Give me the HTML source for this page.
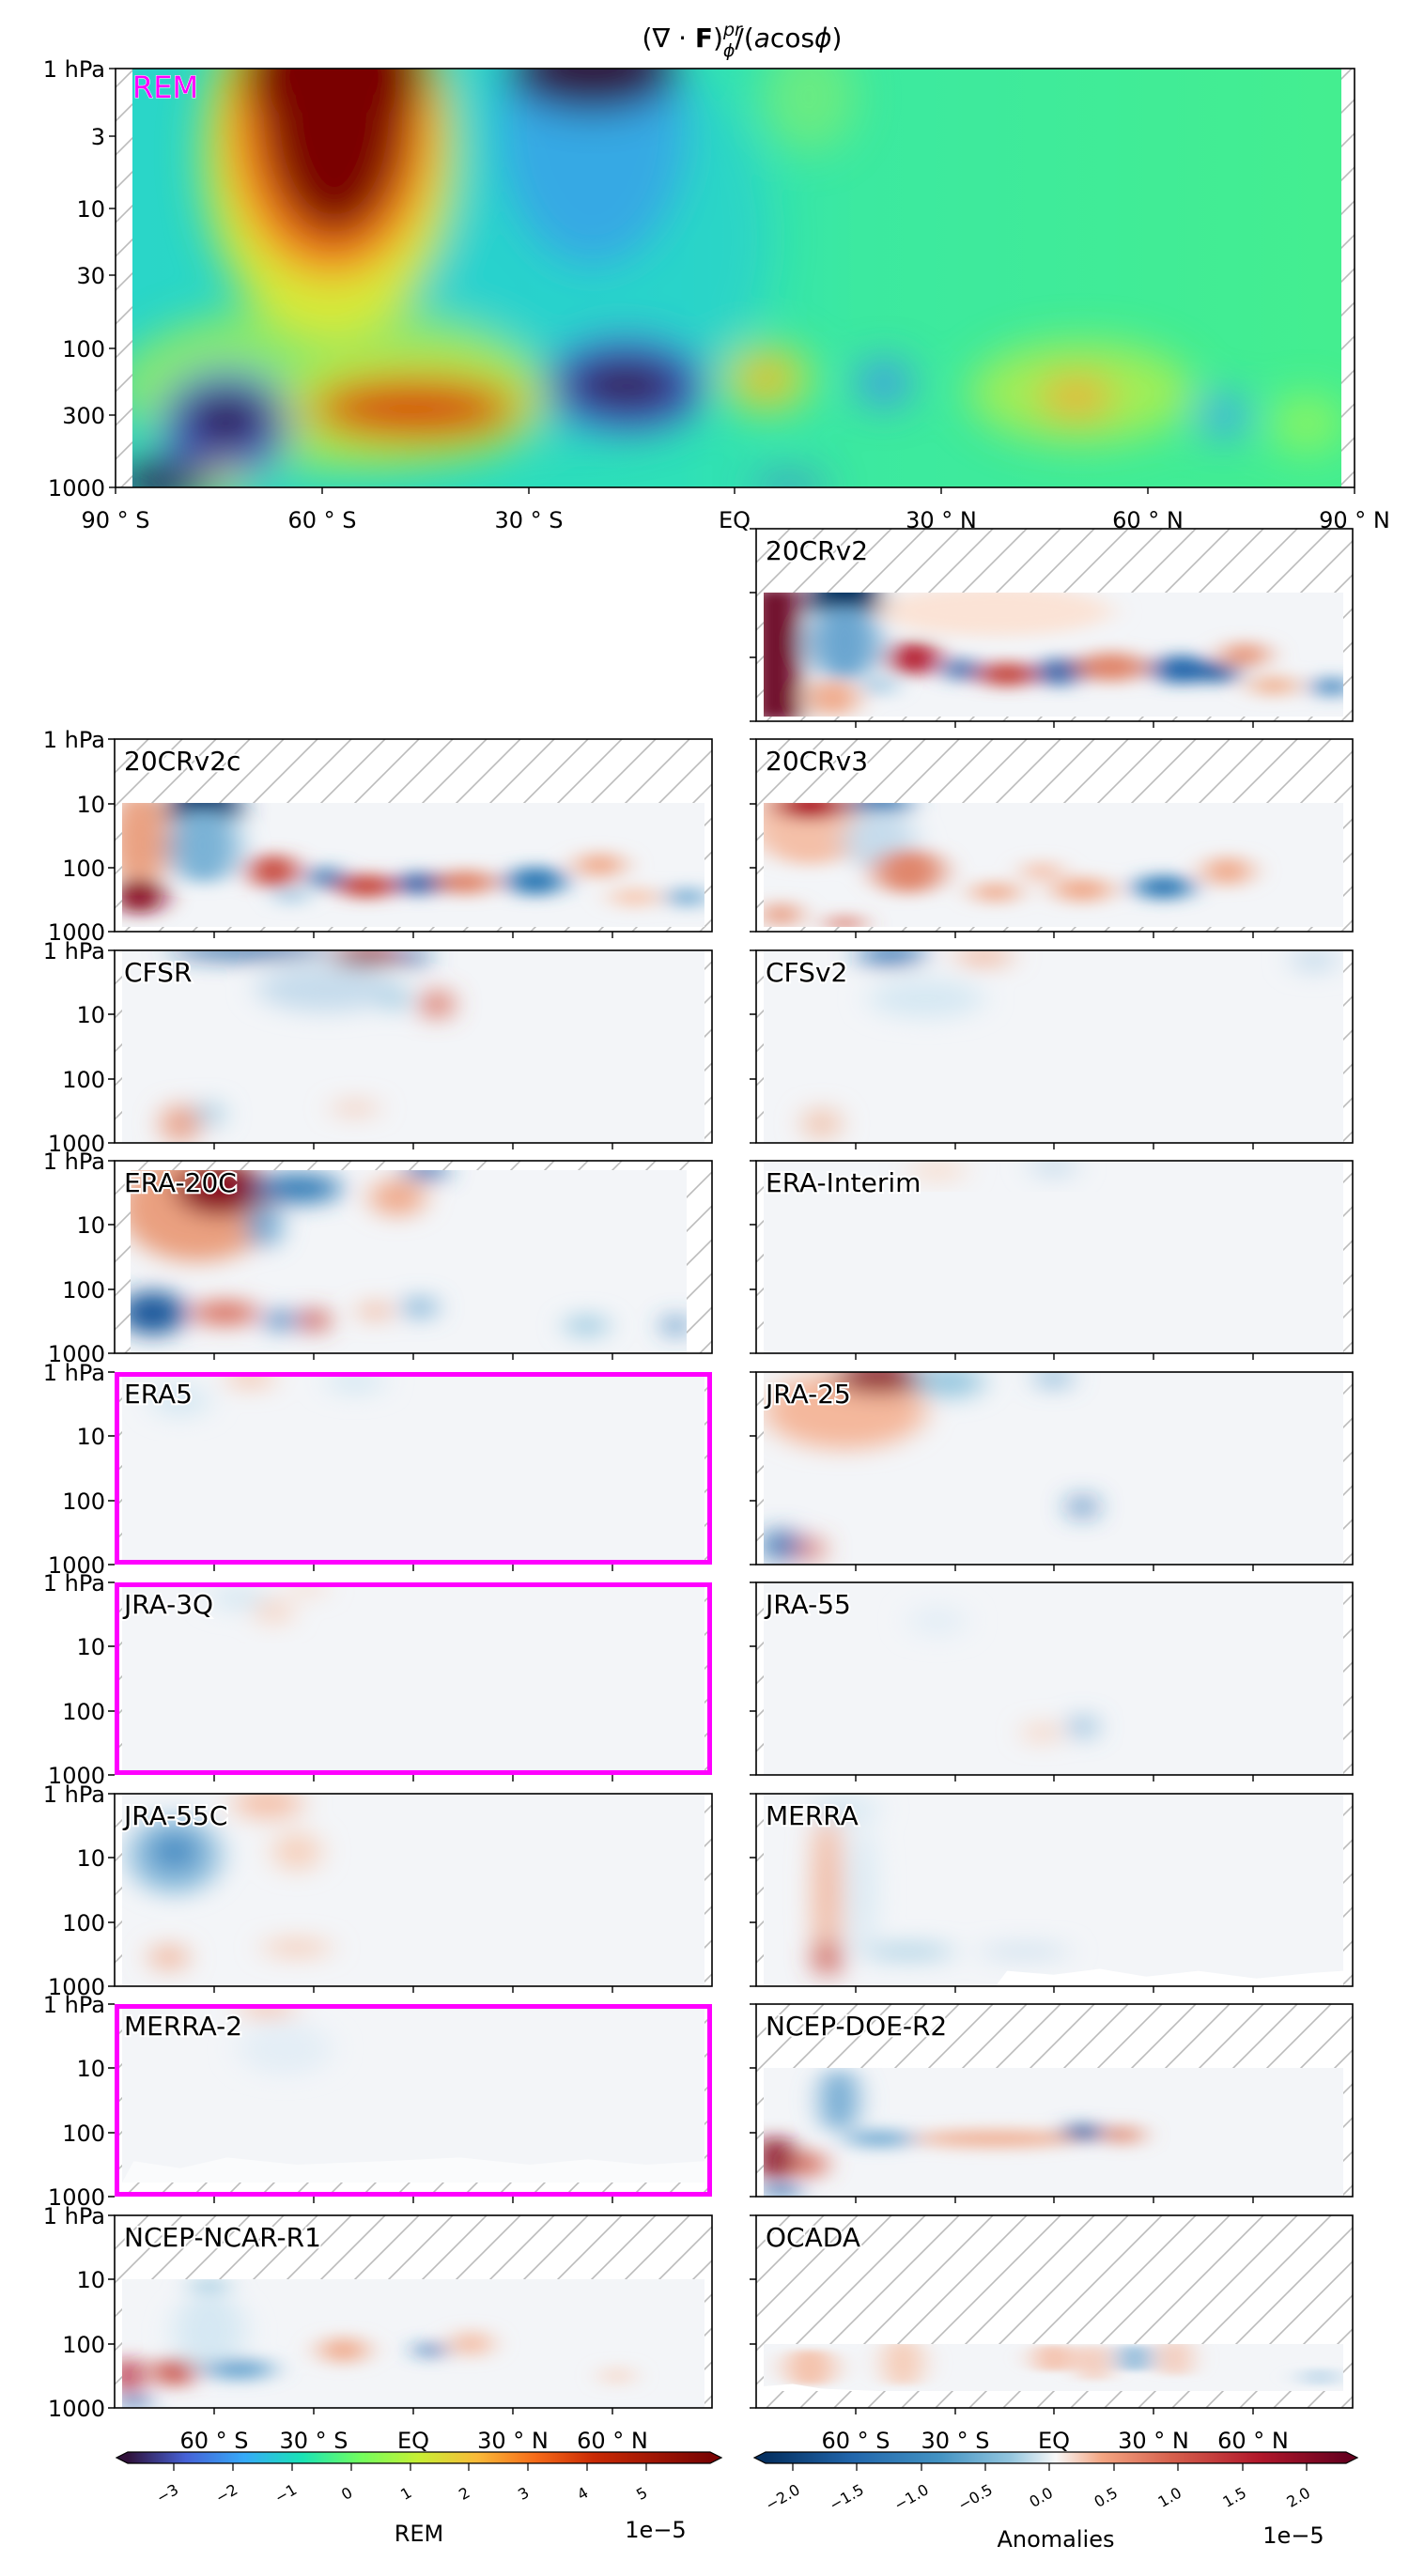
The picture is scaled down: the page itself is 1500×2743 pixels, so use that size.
<!DOCTYPE html>
<html><head><meta charset="utf-8"><style>
html,body{margin:0;padding:0;background:#fff;}
svg text{font-family:"DejaVu Sans","Liberation Sans",sans-serif;}
</style></head><body>
<svg width="1500" height="2738" viewBox="0 0 1500 2738" xmlns="http://www.w3.org/2000/svg">
<defs>
<pattern id="h" patternUnits="userSpaceOnUse" width="36" height="36">
<path d="M-9,9 L9,-9 M0,36 L36,0 M27,45 L45,27" stroke="#bbb" stroke-width="1.6"/>
</pattern>
<filter id="b" x="-50%" y="-50%" width="200%" height="200%"><feGaussianBlur stdDeviation="2.4 6"/></filter>
<filter id="bb" x="-50%" y="-50%" width="200%" height="200%"><feGaussianBlur stdDeviation="22"/></filter>
<linearGradient id="turbo" x1="0" x2="1">
<stop offset="0" stop-color="#30123b"/><stop offset=".1" stop-color="#4662d7"/><stop offset=".2" stop-color="#36aaf9"/><stop offset=".3" stop-color="#1ae4b6"/><stop offset=".4" stop-color="#72fe5e"/><stop offset=".5" stop-color="#c8ef34"/><stop offset=".6" stop-color="#faba39"/><stop offset=".7" stop-color="#f66b19"/><stop offset=".8" stop-color="#ca2a04"/><stop offset="1" stop-color="#7a0403"/>
</linearGradient>
<linearGradient id="rdbu" x1="0" x2="1">
<stop offset="0" stop-color="#053061"/><stop offset=".15" stop-color="#2166ac"/><stop offset=".3" stop-color="#4393c3"/><stop offset=".42" stop-color="#92c5de"/><stop offset=".5" stop-color="#f7f7f7"/><stop offset=".58" stop-color="#f4a582"/><stop offset=".7" stop-color="#d6604d"/><stop offset=".85" stop-color="#b2182b"/><stop offset="1" stop-color="#67001f"/>
</linearGradient>
<linearGradient id="remb" x1="0" x2="1">
<stop offset="0" stop-color="#2ad6c8"/><stop offset=".45" stop-color="#2ee0b8"/><stop offset=".6" stop-color="#3ce9a0"/><stop offset="1" stop-color="#44ee90"/>
</linearGradient>
</defs>

<!-- Title -->
<text x="790" y="50" font-size="28" text-anchor="middle">(∇ · <tspan font-weight="bold">F</tspan>)<tspan font-size="19" dy="-12" font-style="italic">pr</tspan><tspan font-size="19" dx="-20" dy="22" font-style="italic">ϕ</tspan><tspan dy="-10">/(</tspan><tspan font-style="italic">a</tspan>cos<tspan font-style="italic">ϕ</tspan>)</text>

<!-- REM panel -->
<rect x="123" y="73" width="1319" height="446" fill="#fff"/>
<rect x="123" y="73" width="1319" height="446" fill="url(#h)"/>
<svg x="141" y="73" width="1287" height="446" viewBox="0 0 1287 446">
<rect width="1287" height="446" fill="url(#remb)"/>
<g filter="url(#bb)">
<ellipse cx="460" cy="180" rx="220" ry="220" fill="#26c6e0" opacity=".45"/>
<ellipse cx="720" cy="30" rx="50" ry="60" fill="#9af060" opacity=".5"/>
<ellipse cx="210" cy="340" rx="230" ry="90" fill="#a8ee50" opacity=".75"/>
<ellipse cx="210" cy="90" rx="135" ry="200" fill="#d8e838"/>
<ellipse cx="212" cy="60" rx="110" ry="160" fill="#f87a1e"/>
<ellipse cx="215" cy="40" rx="80" ry="140" fill="#7a0403"/>
<ellipse cx="215" cy="0" rx="100" ry="80" fill="#7a0403"/>
<ellipse cx="490" cy="60" rx="100" ry="150" fill="#3f8ef5" opacity=".6"/>
<ellipse cx="490" cy="0" rx="90" ry="45" fill="#30123b"/>
<ellipse cx="100" cy="378" rx="70" ry="55" fill="#4662d7"/>
<ellipse cx="100" cy="375" rx="48" ry="30" fill="#30123b"/>
<ellipse cx="300" cy="360" rx="140" ry="60" fill="#d0e835" opacity=".8"/>
<ellipse cx="300" cy="362" rx="110" ry="32" fill="#d63a06"/>
<ellipse cx="525" cy="337" rx="85" ry="50" fill="#4662d7"/>
<ellipse cx="525" cy="337" rx="65" ry="28" fill="#30123b"/>
<ellipse cx="675" cy="330" rx="50" ry="38" fill="#d0ee3a" opacity=".8"/>
<ellipse cx="675" cy="330" rx="25" ry="15" fill="#fb8022"/>
<ellipse cx="800" cy="335" rx="28" ry="22" fill="#3f8ef0"/>
<ellipse cx="1010" cy="345" rx="120" ry="55" fill="#c8f03a" opacity=".7"/>
<ellipse cx="1005" cy="350" rx="40" ry="20" fill="#fca030"/>
<ellipse cx="1162" cy="370" rx="25" ry="22" fill="#3fa0f5"/>
<ellipse cx="1250" cy="378" rx="40" ry="30" fill="#a8f850" opacity=".7"/>
<rect x="-10" y="420" width="90" height="40" fill="#30123b"/>
<ellipse cx="100" cy="440" rx="30" ry="12" fill="#dfe030"/>
<ellipse cx="700" cy="446" rx="40" ry="8" fill="#4662d7"/>
</g>
</svg>
<rect x="123" y="73" width="1319" height="446" fill="none" stroke="#000" stroke-width="1.6"/>
<text x="141" y="104" font-size="32" fill="#ff00ff" stroke="#fff" stroke-width="1" paint-order="stroke">REM</text>
<g stroke="#000" stroke-width="1.4">
<line x1="116" y1="73" x2="123" y2="73"/><line x1="116" y1="145" x2="123" y2="145"/><line x1="116" y1="222" x2="123" y2="222"/><line x1="116" y1="293" x2="123" y2="293"/><line x1="116" y1="371" x2="123" y2="371"/><line x1="116" y1="442" x2="123" y2="442"/><line x1="116" y1="519" x2="123" y2="519"/>
</g>
<g font-size="24" text-anchor="end">
<text x="112" y="82">1 hPa</text><text x="112" y="154">3</text><text x="112" y="231">10</text><text x="112" y="302">30</text><text x="112" y="380">100</text><text x="112" y="451">300</text><text x="112" y="528">1000</text>
</g>
<g stroke="#000" stroke-width="1.4">
<line x1="123" y1="519" x2="123" y2="526"/><line x1="343" y1="519" x2="343" y2="526"/><line x1="563" y1="519" x2="563" y2="526"/><line x1="782" y1="519" x2="782" y2="526"/><line x1="1002" y1="519" x2="1002" y2="526"/><line x1="1222" y1="519" x2="1222" y2="526"/><line x1="1442" y1="519" x2="1442" y2="526"/>
</g>
<g font-size="24" text-anchor="middle">
<text x="123" y="562">90 ° S</text><text x="343" y="562">60 ° S</text><text x="563" y="562">30 ° S</text><text x="782" y="562">EQ</text><text x="1002" y="562">30 ° N</text><text x="1222" y="562">60 ° N</text><text x="1442" y="562">90 ° N</text>
</g>

<!-- Row0 right: 20CRv2 -->
<g transform="translate(805,563)">
<rect width="635" height="205" fill="#fff"/><rect width="635" height="205" fill="url(#h)"/>
<svg x="8" y="68" width="617" height="132" viewBox="0 0 100 100" preserveAspectRatio="none">
<rect width="100" height="100" fill="#f3f5f8"/>
<g filter="url(#b)">
<ellipse cx="40" cy="15" rx="20" ry="20" fill="#fbe3d6"/>
<rect x="-2" y="-5" width="8" height="110" fill="#67001f"/>
<ellipse cx="14" cy="5" rx="6" ry="25" fill="#053061"/>
<ellipse cx="14" cy="40" rx="6" ry="30" fill="#6aa6d0"/>
<ellipse cx="26" cy="53" rx="4" ry="14" fill="#b2182b"/>
<ellipse cx="34" cy="62" rx="2.5" ry="10" fill="#2166ac"/>
<ellipse cx="42" cy="66" rx="5" ry="10" fill="#c4453c"/>
<ellipse cx="51" cy="64" rx="3.5" ry="12" fill="#2166ac"/>
<ellipse cx="60" cy="60" rx="6" ry="12" fill="#e0866c"/>
<ellipse cx="72" cy="62" rx="5" ry="12" fill="#2166ac"/>
<ellipse cx="79" cy="65" rx="2.5" ry="9" fill="#1a5a9c"/>
<ellipse cx="83" cy="50" rx="4" ry="10" fill="#e8987c"/>
<ellipse cx="88" cy="75" rx="4" ry="8" fill="#f0b090"/>
<ellipse cx="98" cy="76" rx="3" ry="8" fill="#3a80bc"/>
<ellipse cx="12" cy="85" rx="4" ry="15" fill="#f0a888"/>
<ellipse cx="20" cy="75" rx="2" ry="8" fill="#8bbcdc"/>
</g></svg>
<rect width="635" height="205" fill="none" stroke="#000" stroke-width="1.6"/>
<text x="10" y="33" font-size="28" stroke="#fff" stroke-width="4" paint-order="stroke">20CRv2</text>
</g>

<!-- Row1 left: 20CRv2c -->
<g transform="translate(122,787)">
<rect width="636" height="205" fill="#fff"/><rect width="636" height="205" fill="url(#h)"/>
<svg x="8" y="68" width="620" height="132" viewBox="0 0 100 100" preserveAspectRatio="none">
<rect width="100" height="100" fill="#f3f5f8"/>
<g filter="url(#b)">
<ellipse cx="3" cy="30" rx="5" ry="40" fill="#eaa080"/>
<ellipse cx="3" cy="75" rx="4" ry="15" fill="#8a0a24"/>
<ellipse cx="14" cy="5" rx="6" ry="25" fill="#0a3a70"/>
<ellipse cx="14" cy="35" rx="6" ry="30" fill="#7ab2d6"/>
<ellipse cx="26" cy="55" rx="4" ry="14" fill="#c84a3e"/>
<ellipse cx="35" cy="60" rx="2.5" ry="10" fill="#2f79b5"/>
<ellipse cx="42" cy="67" rx="5" ry="10" fill="#c84a3e"/>
<ellipse cx="51" cy="65" rx="3.5" ry="10" fill="#2166ac"/>
<ellipse cx="59" cy="64" rx="5" ry="10" fill="#e0866c"/>
<ellipse cx="71" cy="63" rx="5" ry="12" fill="#2f79b5"/>
<ellipse cx="82" cy="50" rx="4" ry="10" fill="#f0aa8c"/>
<ellipse cx="88" cy="76" rx="4" ry="8" fill="#f7c8b0"/>
<ellipse cx="97" cy="76" rx="3" ry="8" fill="#6aa6d0"/>
<ellipse cx="29" cy="75" rx="2" ry="7" fill="#8bbcdc"/>
</g></svg>
<rect width="636" height="205" fill="none" stroke="#000" stroke-width="1.6"/>
<text x="10" y="33" font-size="28" stroke="#fff" stroke-width="4" paint-order="stroke">20CRv2c</text>
</g>

<!-- Row1 right: 20CRv3 -->
<g transform="translate(805,787)">
<rect width="635" height="205" fill="#fff"/><rect width="635" height="205" fill="url(#h)"/>
<svg x="8" y="68" width="617" height="132" viewBox="0 0 100 100" preserveAspectRatio="none">
<rect width="100" height="100" fill="#f3f5f8"/>
<g filter="url(#b)">
<ellipse cx="8" cy="15" rx="10" ry="35" fill="#f4c0a8"/>
<ellipse cx="8" cy="2" rx="6" ry="12" fill="#b2182b"/>
<ellipse cx="20" cy="2" rx="5" ry="12" fill="#2f79b5"/>
<ellipse cx="20" cy="30" rx="6" ry="25" fill="#c6dcec"/>
<ellipse cx="25" cy="55" rx="6" ry="18" fill="#e0866c"/>
<ellipse cx="40" cy="72" rx="4" ry="8" fill="#f0aa8c"/>
<ellipse cx="48" cy="55" rx="3" ry="8" fill="#f4bca4"/>
<ellipse cx="55" cy="70" rx="5" ry="10" fill="#f0aa8c"/>
<ellipse cx="69" cy="68" rx="5" ry="10" fill="#2f79b5"/>
<ellipse cx="80" cy="55" rx="4" ry="12" fill="#f0aa8c"/>
<ellipse cx="3" cy="90" rx="3" ry="10" fill="#e8987c"/>
<ellipse cx="14" cy="97" rx="3" ry="5" fill="#d6604d"/>
</g></svg>
<rect width="635" height="205" fill="none" stroke="#000" stroke-width="1.6"/>
<text x="10" y="33" font-size="28" stroke="#fff" stroke-width="4" paint-order="stroke">20CRv3</text>
</g>

<!-- Row2 left: CFSR -->
<g transform="translate(122,1012)">
<rect width="636" height="205" fill="#fff"/><rect width="636" height="205" fill="url(#h)"/>
<svg x="8" y="0" width="620" height="205" viewBox="0 0 100 100" preserveAspectRatio="none">
<rect width="100" height="100" fill="#f3f5f8"/>
<g filter="url(#b)">
<ellipse cx="22" cy="0" rx="14" ry="4" fill="#1a5a9c"/>
<ellipse cx="35" cy="20" rx="12" ry="12" fill="#c6dcec"/>
<ellipse cx="42" cy="3" rx="6" ry="5" fill="#8a0a24"/>
<ellipse cx="50" cy="3" rx="2.5" ry="4" fill="#1a5a9c"/>
<ellipse cx="54" cy="28" rx="2.5" ry="7" fill="#d6604d"/>
<ellipse cx="47" cy="25" rx="2" ry="6" fill="#92c5de"/>
<ellipse cx="10" cy="90" rx="3" ry="10" fill="#e8987c"/>
<ellipse cx="15" cy="85" rx="2" ry="6" fill="#92c5de"/>
<ellipse cx="40" cy="82" rx="4" ry="3" fill="#f4c0a8"/>
</g></svg>
<rect width="636" height="205" fill="none" stroke="#000" stroke-width="1.6"/>
<text x="10" y="33" font-size="28" stroke="#fff" stroke-width="4" paint-order="stroke">CFSR</text>
</g>

<!-- Row2 right: CFSv2 -->
<g transform="translate(805,1012)">
<rect width="635" height="205" fill="#fff"/><rect width="635" height="205" fill="url(#h)"/>
<svg x="8" y="0" width="617" height="205" viewBox="0 0 100 100" preserveAspectRatio="none">
<rect width="100" height="100" fill="#f3f5f8"/>
<g filter="url(#b)">
<ellipse cx="22" cy="2" rx="6" ry="5" fill="#2166ac"/>
<ellipse cx="38" cy="3" rx="5" ry="4" fill="#f0aa8c"/>
<ellipse cx="28" cy="25" rx="10" ry="10" fill="#d6e8f3"/>
<ellipse cx="95" cy="5" rx="4" ry="6" fill="#c6dcec"/>
<ellipse cx="10" cy="90" rx="3" ry="8" fill="#f0c0a8"/>
</g></svg>
<rect width="635" height="205" fill="none" stroke="#000" stroke-width="1.6"/>
<text x="10" y="33" font-size="28" stroke="#fff" stroke-width="4" paint-order="stroke">CFSv2</text>
</g>

<!-- Row3 left: ERA-20C -->
<g transform="translate(122,1236)">
<rect width="636" height="205" fill="#fff"/><rect width="636" height="205" fill="url(#h)"/>
<svg x="17" y="10" width="592" height="195" viewBox="0 0 100 100" preserveAspectRatio="none">
<rect width="100" height="100" fill="#f3f5f8"/>
<g filter="url(#b)">
<ellipse cx="12" cy="20" rx="14" ry="30" fill="#eaa080"/>
<ellipse cx="16" cy="10" rx="8" ry="15" fill="#8a0a24"/>
<ellipse cx="30" cy="10" rx="8" ry="8" fill="#2f79b5"/>
<ellipse cx="24" cy="30" rx="3" ry="12" fill="#6aa6d0"/>
<ellipse cx="48" cy="15" rx="5" ry="10" fill="#f0aa8c"/>
<ellipse cx="53" cy="0" rx="4" ry="5" fill="#2166ac"/>
<ellipse cx="4" cy="78" rx="6" ry="12" fill="#1a5a9c"/>
<ellipse cx="17" cy="78" rx="6" ry="6" fill="#d6604d"/>
<ellipse cx="27" cy="82" rx="3" ry="5" fill="#3a80bc"/>
<ellipse cx="33" cy="82" rx="2.5" ry="6" fill="#c84a3e"/>
<ellipse cx="52" cy="75" rx="3" ry="5" fill="#6aa6d0"/>
<ellipse cx="44" cy="77" rx="3" ry="4" fill="#f0aa8c"/>
<ellipse cx="82" cy="85" rx="4" ry="5" fill="#92c5de"/>
<ellipse cx="98" cy="85" rx="2" ry="5" fill="#3a80bc"/>
</g></svg>
<rect width="636" height="205" fill="none" stroke="#000" stroke-width="1.6"/>
<text x="10" y="33" font-size="28" stroke="#fff" stroke-width="4" paint-order="stroke">ERA-20C</text>
</g>

<!-- Row3 right: ERA-Interim -->
<g transform="translate(805,1236)">
<rect width="635" height="205" fill="#fff"/><rect width="635" height="205" fill="url(#h)"/>
<svg x="8" y="0" width="617" height="205" viewBox="0 0 100 100" preserveAspectRatio="none">
<rect width="100" height="100" fill="#f3f5f8"/>
<g filter="url(#b)">
<ellipse cx="50" cy="3" rx="4" ry="5" fill="#c6dcec"/>
<ellipse cx="30" cy="5" rx="5" ry="5" fill="#f8dccc"/>
</g></svg>
<rect width="635" height="205" fill="none" stroke="#000" stroke-width="1.6"/>
<text x="10" y="33" font-size="28" stroke="#fff" stroke-width="4" paint-order="stroke">ERA-Interim</text>
</g>

<!-- Row4 left: ERA5 -->
<g transform="translate(122,1461)">
<rect width="636" height="205" fill="#fff"/><rect width="636" height="205" fill="url(#h)"/>
<svg x="8" y="0" width="620" height="205" viewBox="0 0 100 100" preserveAspectRatio="none">
<rect width="100" height="100" fill="#f3f5f8"/>
<g filter="url(#b)">
<ellipse cx="22" cy="3" rx="4" ry="5" fill="#f6c4ac"/>
<ellipse cx="40" cy="5" rx="5" ry="6" fill="#d6e8f3"/>
<ellipse cx="10" cy="15" rx="5" ry="8" fill="#d6e8f3"/>
</g></svg>
<rect x="2.5" y="2.5" width="631" height="200" fill="none" stroke="#ff00ff" stroke-width="5"/>
<text x="10" y="33" font-size="28" stroke="#fff" stroke-width="4" paint-order="stroke">ERA5</text>
</g>

<!-- Row4 right: JRA-25 -->
<g transform="translate(805,1461)">
<rect width="635" height="205" fill="#fff"/><rect width="635" height="205" fill="url(#h)"/>
<svg x="8" y="0" width="617" height="205" viewBox="0 0 100 100" preserveAspectRatio="none">
<rect width="100" height="100" fill="#f3f5f8"/>
<g filter="url(#b)">
<ellipse cx="14" cy="20" rx="14" ry="20" fill="#f4b89c"/>
<ellipse cx="20" cy="3" rx="8" ry="8" fill="#8a0a24"/>
<ellipse cx="32" cy="5" rx="6" ry="8" fill="#92c5de"/>
<ellipse cx="50" cy="3" rx="3" ry="4" fill="#6aa6d0"/>
<ellipse cx="55" cy="70" rx="2" ry="5" fill="#2166ac"/>
<ellipse cx="3" cy="90" rx="3" ry="8" fill="#2166ac"/>
<ellipse cx="8" cy="92" rx="2" ry="6" fill="#d6604d"/>
</g></svg>
<rect width="635" height="205" fill="none" stroke="#000" stroke-width="1.6"/>
<text x="10" y="33" font-size="28" stroke="#fff" stroke-width="4" paint-order="stroke">JRA-25</text>
</g>

<!-- Row5 left: JRA-3Q -->
<g transform="translate(122,1685)">
<rect width="636" height="205" fill="#fff"/><rect width="636" height="205" fill="url(#h)"/>
<svg x="8" y="0" width="620" height="205" viewBox="0 0 100 100" preserveAspectRatio="none">
<rect width="100" height="100" fill="#f3f5f8"/>
<g filter="url(#b)">
<ellipse cx="26" cy="15" rx="3" ry="6" fill="#f8d0bc"/>
<ellipse cx="20" cy="8" rx="5" ry="6" fill="#d6e8f3"/>
<ellipse cx="32" cy="3" rx="3" ry="3" fill="#f8d0bc"/>
</g></svg>
<rect x="2.5" y="2.5" width="631" height="200" fill="none" stroke="#ff00ff" stroke-width="5"/>
<text x="10" y="33" font-size="28" stroke="#fff" stroke-width="4" paint-order="stroke">JRA-3Q</text>
</g>

<!-- Row5 right: JRA-55 -->
<g transform="translate(805,1685)">
<rect width="635" height="205" fill="#fff"/><rect width="635" height="205" fill="url(#h)"/>
<svg x="8" y="0" width="617" height="205" viewBox="0 0 100 100" preserveAspectRatio="none">
<rect width="100" height="100" fill="#f3f5f8"/>
<g filter="url(#b)">
<ellipse cx="55" cy="75" rx="2" ry="5" fill="#6aa6d0"/>
<ellipse cx="48" cy="78" rx="3" ry="4" fill="#f6c8b0"/>
<ellipse cx="30" cy="20" rx="5" ry="8" fill="#e4eef6"/>
</g></svg>
<rect width="635" height="205" fill="none" stroke="#000" stroke-width="1.6"/>
<text x="10" y="33" font-size="28" stroke="#fff" stroke-width="4" paint-order="stroke">JRA-55</text>
</g>

<!-- Row6 left: JRA-55C -->
<g transform="translate(122,1910)">
<rect width="636" height="205" fill="#fff"/><rect width="636" height="205" fill="url(#h)"/>
<svg x="8" y="0" width="620" height="205" viewBox="0 0 100 100" preserveAspectRatio="none">
<rect width="100" height="100" fill="#f3f5f8"/>
<g filter="url(#b)">
<ellipse cx="9" cy="32" rx="8" ry="20" fill="#8bbcdc"/>
<ellipse cx="9" cy="30" rx="4" ry="10" fill="#4a8ec4"/>
<ellipse cx="25" cy="5" rx="6" ry="8" fill="#f4c0a8"/>
<ellipse cx="30" cy="30" rx="4" ry="10" fill="#f6d0bc"/>
<ellipse cx="8" cy="85" rx="3" ry="6" fill="#f0aa8c"/>
<ellipse cx="30" cy="80" rx="6" ry="4" fill="#f6c8b0"/>
</g></svg>
<rect width="636" height="205" fill="none" stroke="#000" stroke-width="1.6"/>
<text x="10" y="33" font-size="28" stroke="#fff" stroke-width="4" paint-order="stroke">JRA-55C</text>
</g>

<!-- Row6 right: MERRA -->
<g transform="translate(805,1910)">
<rect width="635" height="205" fill="#fff"/><rect width="635" height="205" fill="url(#h)"/>
<svg x="8" y="0" width="617" height="205" viewBox="0 0 100 100" preserveAspectRatio="none">
<rect width="100" height="100" fill="#f3f5f8"/>
<g filter="url(#b)">
<ellipse cx="11" cy="50" rx="2" ry="45" fill="#f0aa8c"/>
<ellipse cx="11" cy="85" rx="2" ry="10" fill="#c84a3e"/>
<ellipse cx="17" cy="50" rx="2" ry="35" fill="#d6e8f3"/>
<ellipse cx="25" cy="82" rx="8" ry="3" fill="#92c5de"/>
<ellipse cx="45" cy="82" rx="8" ry="3" fill="#c6dcec"/>
<ellipse cx="14" cy="8" rx="6" ry="6" fill="#d6e8f3"/>
</g>
<path d="M40,100 L42,92 L50,94 L58,91 L66,95 L75,92 L85,96 L95,93 L100,92 L100,100 Z" fill="#fff"/>
</svg>
<rect width="635" height="205" fill="none" stroke="#000" stroke-width="1.6"/>
<text x="10" y="33" font-size="28" stroke="#fff" stroke-width="4" paint-order="stroke">MERRA</text>
</g>

<!-- Row7 left: MERRA-2 -->
<g transform="translate(122,2134)">
<rect width="636" height="205" fill="#fff"/><rect width="636" height="205" fill="url(#h)"/>
<svg x="8" y="0" width="620" height="190" viewBox="0 0 100 100" preserveAspectRatio="none">
<rect width="100" height="100" fill="#f3f5f8"/>
<g filter="url(#b)">
<ellipse cx="25" cy="3" rx="5" ry="4" fill="#f4bca4"/>
<ellipse cx="28" cy="25" rx="8" ry="15" fill="#e4eef6"/>
</g>
<path d="M0,100 L2,88 L10,92 L18,86 L30,90 L45,88 L58,86 L70,90 L80,87 L90,90 L100,88 L100,100 Z" fill="#fff" opacity=".6"/>
</svg>
<rect x="2.5" y="2.5" width="631" height="200" fill="none" stroke="#ff00ff" stroke-width="5"/>
<text x="10" y="33" font-size="28" stroke="#fff" stroke-width="4" paint-order="stroke">MERRA-2</text>
</g>

<!-- Row7 right: NCEP-DOE-R2 -->
<g transform="translate(805,2134)">
<rect width="635" height="205" fill="#fff"/><rect width="635" height="205" fill="url(#h)"/>
<svg x="8" y="68" width="617" height="137" viewBox="0 0 100 100" preserveAspectRatio="none">
<rect width="100" height="100" fill="#f3f5f8"/>
<g filter="url(#b)">
<ellipse cx="2" cy="70" rx="3" ry="18" fill="#8a0a24"/>
<ellipse cx="8" cy="75" rx="2" ry="12" fill="#d6604d"/>
<ellipse cx="13" cy="25" rx="3" ry="25" fill="#6aa6d0"/>
<ellipse cx="20" cy="55" rx="6" ry="6" fill="#6aa6d0"/>
<ellipse cx="40" cy="55" rx="14" ry="6" fill="#f0aa8c"/>
<ellipse cx="55" cy="50" rx="3" ry="7" fill="#1a5a9c"/>
<ellipse cx="62" cy="52" rx="3" ry="7" fill="#e0866c"/>
<ellipse cx="3" cy="95" rx="3" ry="5" fill="#2166ac"/>
</g></svg>
<rect width="635" height="205" fill="none" stroke="#000" stroke-width="1.6"/>
<text x="10" y="33" font-size="28" stroke="#fff" stroke-width="4" paint-order="stroke">NCEP-DOE-R2</text>
</g>

<!-- Row8 left: NCEP-NCAR-R1 -->
<g transform="translate(122,2359)">
<rect width="636" height="205" fill="#fff"/><rect width="636" height="205" fill="url(#h)"/>
<svg x="8" y="68" width="620" height="137" viewBox="0 0 100 100" preserveAspectRatio="none">
<rect width="100" height="100" fill="#f3f5f8"/>
<g filter="url(#b)">
<ellipse cx="15" cy="5" rx="3" ry="5" fill="#92c5de"/>
<ellipse cx="15" cy="40" rx="6" ry="30" fill="#d6e8f3"/>
<ellipse cx="1" cy="75" rx="2" ry="15" fill="#b2182b"/>
<ellipse cx="9" cy="72" rx="3" ry="12" fill="#c84a3e"/>
<ellipse cx="20" cy="70" rx="6" ry="8" fill="#6aa6d0"/>
<ellipse cx="2" cy="95" rx="2" ry="6" fill="#2166ac"/>
<ellipse cx="38" cy="55" rx="4" ry="10" fill="#f0aa8c"/>
<ellipse cx="53" cy="55" rx="2" ry="6" fill="#2166ac"/>
<ellipse cx="60" cy="50" rx="3" ry="10" fill="#f4b89c"/>
<ellipse cx="85" cy="75" rx="2" ry="6" fill="#f6c8b0"/>
</g></svg>
<rect width="636" height="205" fill="none" stroke="#000" stroke-width="1.6"/>
<text x="10" y="33" font-size="28" stroke="#fff" stroke-width="4" paint-order="stroke">NCEP-NCAR-R1</text>
</g>

<!-- Row8 right: OCADA -->
<g transform="translate(805,2359)">
<rect width="635" height="205" fill="#fff"/><rect width="635" height="205" fill="url(#h)"/>
<svg x="8" y="137" width="617" height="50" viewBox="0 0 100 100" preserveAspectRatio="none">
<rect width="100" height="100" fill="#f3f5f8"/>
<g filter="url(#b)">
<ellipse cx="8" cy="50" rx="4" ry="40" fill="#f4c0a8"/>
<ellipse cx="24" cy="40" rx="3" ry="50" fill="#f6c8b0"/>
<ellipse cx="50" cy="30" rx="3" ry="30" fill="#f4bca4"/>
<ellipse cx="57" cy="40" rx="2" ry="40" fill="#f4bca4"/>
<ellipse cx="64" cy="30" rx="2" ry="30" fill="#6aa6d0"/>
<ellipse cx="71" cy="30" rx="2" ry="40" fill="#f4bca4"/>
<ellipse cx="96" cy="70" rx="3" ry="20" fill="#c6dcec"/>
</g>
<path d="M0,100 L0,90 L5,85 L10,95 L20,100 Z" fill="#fff"/>
</svg>
<rect width="635" height="205" fill="none" stroke="#000" stroke-width="1.6"/>
<text x="10" y="33" font-size="28" stroke="#fff" stroke-width="4" paint-order="stroke">OCADA</text>
</g>

<!-- ticks for small panels -->
<g stroke="#000" stroke-width="1.4">
<path d="M115,787h7M115,856h7M115,924h7M115,992h7 M115,1012h7M115,1080h7M115,1149h7M115,1217h7 M115,1236h7M115,1304h7M115,1373h7M115,1441h7 M115,1461h7M115,1529h7M115,1598h7M115,1666h7 M115,1685h7M115,1753h7M115,1822h7M115,1890h7 M115,1910h7M115,1978h7M115,2047h7M115,2115h7 M115,2134h7M115,2202h7M115,2271h7M115,2339h7 M115,2359h7M115,2427h7M115,2496h7M115,2564h7"/>
<path d="M798,563h7M798,631h7M798,700h7M798,768h7 M798,787h7M798,856h7M798,924h7M798,992h7 M798,1012h7M798,1080h7M798,1149h7M798,1217h7 M798,1236h7M798,1304h7M798,1373h7M798,1441h7 M798,1461h7M798,1529h7M798,1598h7M798,1666h7 M798,1685h7M798,1753h7M798,1822h7M798,1890h7 M798,1910h7M798,1978h7M798,2047h7M798,2115h7 M798,2134h7M798,2202h7M798,2271h7M798,2339h7 M798,2359h7M798,2427h7M798,2496h7M798,2564h7"/>
<path d="M228,992v7M334,992v7M440,992v7M546,992v7M652,992v7 M228,1217v7M334,1217v7M440,1217v7M546,1217v7M652,1217v7 M228,1441v7M334,1441v7M440,1441v7M546,1441v7M652,1441v7 M228,1666v7M334,1666v7M440,1666v7M546,1666v7M652,1666v7 M228,1890v7M334,1890v7M440,1890v7M546,1890v7M652,1890v7 M228,2115v7M334,2115v7M440,2115v7M546,2115v7M652,2115v7 M228,2339v7M334,2339v7M440,2339v7M546,2339v7M652,2339v7 M228,2564v7M334,2564v7M440,2564v7M546,2564v7M652,2564v7"/>
<path d="M911,768v7M1017,768v7M1122,768v7M1228,768v7M1334,768v7 M911,992v7M1017,992v7M1122,992v7M1228,992v7M1334,992v7 M911,1217v7M1017,1217v7M1122,1217v7M1228,1217v7M1334,1217v7 M911,1441v7M1017,1441v7M1122,1441v7M1228,1441v7M1334,1441v7 M911,1666v7M1017,1666v7M1122,1666v7M1228,1666v7M1334,1666v7 M911,1890v7M1017,1890v7M1122,1890v7M1228,1890v7M1334,1890v7 M911,2115v7M1017,2115v7M1122,2115v7M1228,2115v7M1334,2115v7 M911,2339v7M1017,2339v7M1122,2339v7M1228,2339v7M1334,2339v7 M911,2564v7M1017,2564v7M1122,2564v7M1228,2564v7M1334,2564v7"/>
</g>
<g font-size="24" text-anchor="end">
<text x="112" y="796">1 hPa</text><text x="112" y="865">10</text><text x="112" y="933">100</text><text x="112" y="1001">1000</text>
<text x="112" y="1021">1 hPa</text><text x="112" y="1089">10</text><text x="112" y="1158">100</text><text x="112" y="1226">1000</text>
<text x="112" y="1245">1 hPa</text><text x="112" y="1313">10</text><text x="112" y="1382">100</text><text x="112" y="1450">1000</text>
<text x="112" y="1470">1 hPa</text><text x="112" y="1538">10</text><text x="112" y="1607">100</text><text x="112" y="1675">1000</text>
<text x="112" y="1694">1 hPa</text><text x="112" y="1762">10</text><text x="112" y="1831">100</text><text x="112" y="1899">1000</text>
<text x="112" y="1919">1 hPa</text><text x="112" y="1987">10</text><text x="112" y="2056">100</text><text x="112" y="2124">1000</text>
<text x="112" y="2143">1 hPa</text><text x="112" y="2211">10</text><text x="112" y="2280">100</text><text x="112" y="2348">1000</text>
<text x="112" y="2368">1 hPa</text><text x="112" y="2436">10</text><text x="112" y="2505">100</text><text x="112" y="2573">1000</text>
</g>
<g font-size="24" text-anchor="middle">
<text x="228" y="2607">60 ° S</text><text x="334" y="2607">30 ° S</text><text x="440" y="2607">EQ</text><text x="546" y="2607">30 ° N</text><text x="652" y="2607">60 ° N</text>
<text x="911" y="2607">60 ° S</text><text x="1017" y="2607">30 ° S</text><text x="1122" y="2607">EQ</text><text x="1228" y="2607">30 ° N</text><text x="1334" y="2607">60 ° N</text>
</g>

<!-- colorbars -->
<polygon points="124,2617 136,2611 136,2623" fill="#30123b"/>
<rect x="136" y="2611" width="620" height="12" fill="url(#turbo)"/>
<polygon points="768,2617 756,2611 756,2623" fill="#7a0403"/>
<polygon points="124,2617 136,2611 756,2611 768,2617 756,2623 136,2623 Z" fill="none" stroke="#000" stroke-width="1.2"/>
<polygon points="803,2617 815,2611 815,2623" fill="#053061"/>
<rect x="815" y="2611" width="618" height="12" fill="url(#rdbu)"/>
<polygon points="1445,2617 1433,2611 1433,2623" fill="#67001f"/>
<polygon points="803,2617 815,2611 1433,2611 1445,2617 1433,2623 815,2623 Z" fill="none" stroke="#000" stroke-width="1.2"/>
<g stroke="#000" stroke-width="1.2">
<path d="M185,2623v8M248,2623v8M311,2623v8M374,2623v8M437,2623v8M499,2623v8M562,2623v8M625,2623v8M688,2623v8"/>
<path d="M844,2623v8M912,2623v8M981,2623v8M1049,2623v8M1117,2623v8M1186,2623v8M1254,2623v8M1323,2623v8M1391,2623v8"/>
</g>
<g font-size="16" text-anchor="middle">
<text transform="translate(181,2660) rotate(-30)">−3</text><text transform="translate(244,2660) rotate(-30)">−2</text><text transform="translate(307,2660) rotate(-30)">−1</text><text transform="translate(372,2660) rotate(-30)">0</text><text transform="translate(435,2660) rotate(-30)">1</text><text transform="translate(497,2660) rotate(-30)">2</text><text transform="translate(560,2660) rotate(-30)">3</text><text transform="translate(623,2660) rotate(-30)">4</text><text transform="translate(686,2660) rotate(-30)">5</text>
<text transform="translate(836,2664) rotate(-30)">−2.0</text><text transform="translate(904,2664) rotate(-30)">−1.5</text><text transform="translate(973,2664) rotate(-30)">−1.0</text><text transform="translate(1041,2664) rotate(-30)">−0.5</text><text transform="translate(1111,2664) rotate(-30)">0.0</text><text transform="translate(1180,2664) rotate(-30)">0.5</text><text transform="translate(1248,2664) rotate(-30)">1.0</text><text transform="translate(1317,2664) rotate(-30)">1.5</text><text transform="translate(1385,2664) rotate(-30)">2.0</text>
</g>
<g font-size="24" text-anchor="middle">
<text x="446" y="2706">REM</text><text x="698" y="2702">1e−5</text>
<text x="1124" y="2712">Anomalies</text><text x="1377" y="2708">1e−5</text>
</g>
</svg>
</body></html>
